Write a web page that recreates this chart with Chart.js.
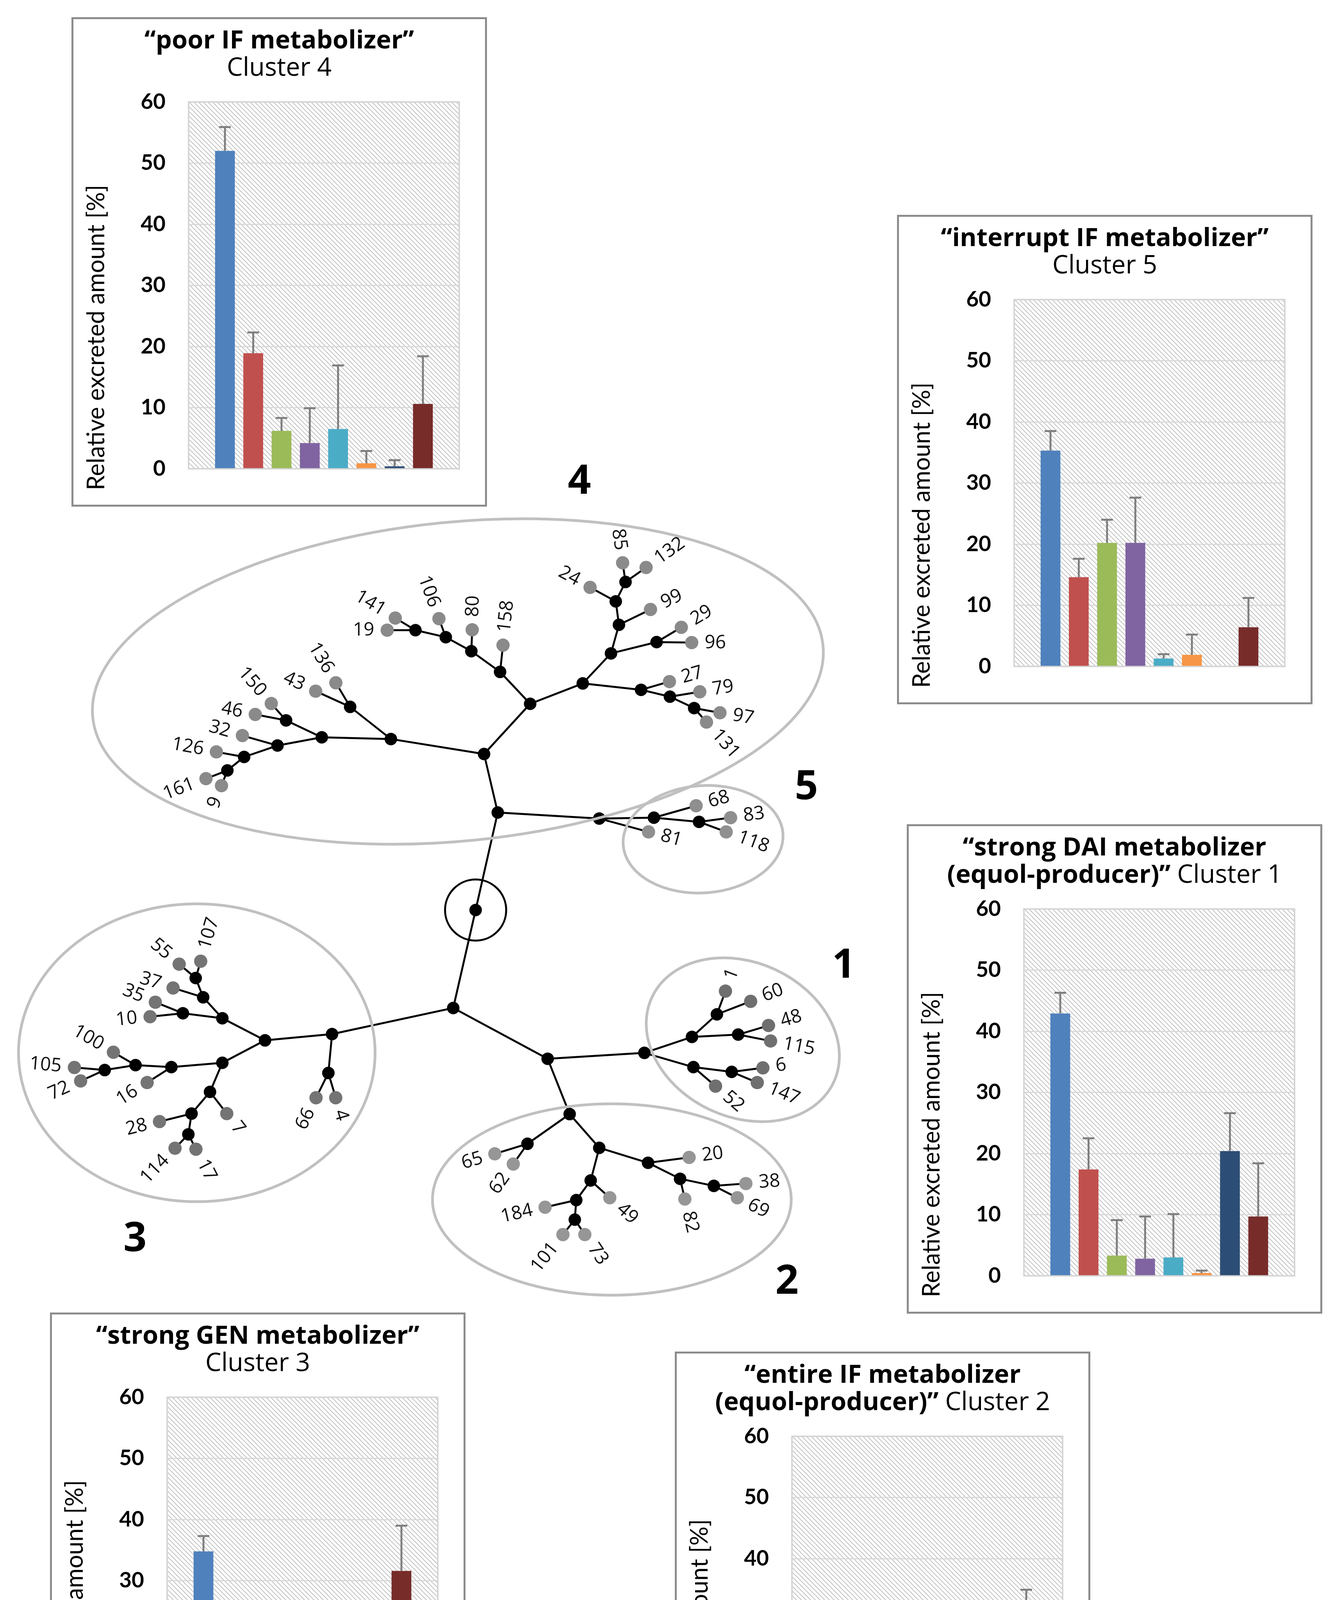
<!DOCTYPE html>
<html>
<head>
<meta charset="utf-8">
<script src="https://cdn.jsdelivr.net/npm/chart.js@4.4.0/dist/chart.umd.min.js"></script>
<style>
html, body { margin: 0; padding: 0; background: #fff; }
#page { position: relative; width: 3416px; height: 4956px; overflow: hidden; background: #fff; }
#tree { position: absolute; left: 0; top: 0; }
.panel { position: absolute; width: 1064px; height: 1253px; box-sizing: border-box; border: 5px solid #8c8c8c; background: #fff; }
.panel canvas { position: absolute; left: 0; top: 0; }
.ptitle { position: absolute; left: 0; right: 0; top: 15px; text-align: center; font-family: 'Open Sans'; font-size: 65px; line-height: 70px; color: #000; white-space: nowrap; }
.ptitle b { font-weight: 700; }
#legend { position: absolute; left: 438px; top: 4767px; width: 2517px; height: 163px; box-sizing: border-box; border: 5px solid #000; background: #fff;
  display: flex; align-items: center; justify-content: center; padding-top: 36px; padding-left: 30px; font-family: Lato; font-weight: 700; font-size: 57px; color: #000; }
#legend .item { display: flex; align-items: center; margin: 0 26px; }
#legend .mark { width: 33px; height: 39px; margin-right: 18px; }
</style>
</head>
<body>
<div id="page">
  <canvas id="tree" width="3416" height="4956"></canvas>
  <div id="legend"></div>
</div>
<script>
// ---- bar chart data (relative excreted amount, %, mean and upper SD) ----
var metabolites = ['DAI', 'GEN', 'DH-DAI', 'DH-GEN', 'ODMA', "6'OH-ODMA", 'Equol', '4EP'];
var barColors = ['#4F81BD', '#C0504D', '#9BBB59', '#8064A2', '#4BACC6', '#F79646', '#2C4D75', '#772C2A'];
var yTickMax = 60, yTickStep = 10;
var yAxisTitle = 'Relative excreted amount [%]';

var cluster4Mean = [52.0, 18.9, 6.2, 4.2, 6.5, 0.9, 0.4, 10.6];
var cluster4Sd   = [3.9, 3.4, 2.1, 5.7, 10.4, 2.0, 1.0, 7.8];
var cluster5Mean = [35.3, 14.6, 20.2, 20.2, 1.3, 1.9, 0.0, 6.4];
var cluster5Sd   = [3.2, 3.0, 3.8, 7.4, 0.7, 3.3, 0.0, 4.8];
var cluster1Mean = [42.9, 17.4, 3.3, 2.8, 3.0, 0.45, 20.4, 9.7];
var cluster1Sd   = [3.4, 5.1, 5.8, 6.9, 7.1, 0.4, 6.2, 8.7];
var cluster3Mean = [34.8, 8.7, 11.2, 1.4, 11.0, 0.6, 0.25, 31.6];
var cluster3Sd   = [2.5, 4.3, 8.2, 5.3, 6.8, 0.7, 1.05, 7.4];
var cluster2Mean = [29.8, 9.9, 5.1, 2.9, 4.1, 0.7, 19.1, 28.5];
var cluster2Sd   = [3.0, 1.6, 3.0, 7.4, 2.2, 1.1, 9.25, 6.4];

// ---- tree data: [id, x, y, parent] in figure units (1080 x 1567) ----
var innerNodes = [
  ['R0', 383.5, 736.3, null], ['N', 401.6, 656.8, 'R0'], ['AA', 365.2, 816.1, 'R0'],
  ['M', 390.4, 609.1, 'N'], ['X', 484.6, 661.7, 'N'], ['A', 314.2, 596.9, 'M'], ['L', 428.1, 568.2, 'M'],
  ['B', 257.7, 595.5, 'A'], ['C', 280.9, 570.7, 'A'], ['D', 228.5, 581.7, 'B'], ['E', 221.5, 602.2, 'B'],
  ['F', 194.2, 611.5, 'E'], ['G', 180.5, 622.5, 'F'], ['K', 403.5, 542.2, 'L'], ['J', 380.0, 525.3, 'K'],
  ['I', 359.1, 513.9, 'J'], ['H', 334.3, 508.2, 'I'], ['O', 471.1, 551.6, 'L'], ['P', 494.2, 527.1, 'O'],
  ['Q', 500.7, 503.8, 'P'], ['R', 498.1, 484.7, 'Q'], ['S', 506.1, 468.9, 'R'], ['T', 531.5, 517.9, 'P'],
  ['U', 518.8, 556.8, 'O'], ['V', 542.4, 562.4, 'U'], ['W', 562.2, 571.7, 'V'],
  ['Y', 529.3, 661.0, 'X'], ['Z', 566.2, 664.4, 'Y'],
  ['BA', 266.1, 837.4, 'AA'], ['BB', 263.1, 869.1, 'BA'], ['BC', 211.3, 842.5, 'BA'], ['BD', 176.4, 824.5, 'BC'],
  ['BE', 160.7, 807.4, 'BD'], ['BF', 154.6, 791.7, 'BE'], ['BG', 144.1, 820.4, 'BD'], ['BH', 176.4, 860.8, 'BC'],
  ['BI', 134.7, 864.3, 'BH'], ['BJ', 105.4, 862.7, 'BI'], ['BK', 80.2, 866.7, 'BJ'], ['BL', 166.3, 884.5, 'BH'],
  ['BM', 151.2, 902.2, 'BL'], ['BN', 148.6, 919.1, 'BM'],
  ['AB', 442.4, 857.5, 'AA'], ['CA', 521.5, 852.7, 'AB'], ['CB', 560.4, 839.7, 'CA'], ['CC', 580.8, 821.3, 'CB'],
  ['CD', 598.2, 837.8, 'CB'], ['CE', 561.6, 864.3, 'CA'], ['CF', 592.9, 868.2, 'CE'],
  ['AC', 460.4, 902.6, 'AB'], ['CG', 425.9, 926.8, 'AC'], ['CH', 484.6, 930.1, 'AC'], ['CI', 524.5, 942.3, 'CH'],
  ['CJ', 550.7, 955.3, 'CI'], ['CK', 578.3, 961.1, 'CJ'], ['CL', 477.6, 956.7, 'CH'], ['CM', 465.8, 972.7, 'CL'],
  ['CN', 464.6, 988.6, 'CM']
];
var leaves4 = [
  ['136', 269.2, 551.1, 'C'], ['43', 252.7, 557.9, 'C'], ['150', 216.4, 568.0, 'D'], ['46', 203.3, 576.9, 'D'],
  ['32', 192.8, 594.1, 'E'], ['126', 171.5, 607.4, 'F'], ['161', 163.0, 629.2, 'G'], ['9', 175.7, 634.9, 'G'],
  ['141', 317.8, 498.3, 'H'], ['19', 311.2, 508.2, 'H'], ['106', 353.5, 498.8, 'I'], ['80', 380.7, 507.9, 'J'],
  ['158', 405.9, 520.4, 'K'], ['99', 526.5, 491.3, 'Q'], ['24', 477.1, 473.3, 'R'], ['85', 503.7, 453.3, 'S'],
  ['132', 522.9, 457.1, 'S'], ['29', 551.7, 505.9, 'T'], ['96', 560.2, 518.3, 'T'], ['27', 542.0, 550.1, 'U'],
  ['79', 566.8, 558.4, 'V'], ['97', 583.3, 575.5, 'W'], ['131', 572.3, 583.1, 'W']
];
var leaves5 = [['68', 563.8, 651.3, 'Y'], ['83', 592.0, 661.0, 'Z'], ['118', 588.4, 672.6, 'Z'], ['81', 524.9, 672.6, 'X']];
var leaves3 = [
  ['55', 141.1, 780.4, 'BF'], ['107', 158.7, 778.0, 'BF'], ['37', 136.1, 799.8, 'BE'], ['35', 121.6, 811.4, 'BG'],
  ['10', 117.3, 823.2, 'BG'], ['100', 87.3, 852.2, 'BJ'], ['105', 55.4, 864.6, 'BK'], ['72', 60.5, 875.6, 'BK'],
  ['16', 114.9, 876.9, 'BI'], ['28', 125.0, 908.7, 'BM'], ['114', 137.7, 930.4, 'BN'], ['17', 154.8, 931.2, 'BN'],
  ['7', 180.0, 902.2, 'BL'], ['66', 253.0, 889.3, 'BB'], ['4', 269.1, 889.3, 'BB']
];
var leaves1 = [
  ['1', 587.8, 802.4, 'CC'], ['60', 608.4, 810.7, 'CC'], ['48', 623.0, 830.4, 'CD'], ['115', 624.7, 843.0, 'CD'],
  ['52', 579.7, 879.8, 'CE'], ['6', 618.4, 864.9, 'CF'], ['147', 613.8, 876.9, 'CF']
];
var leaves2 = [
  ['65', 399.2, 935.0, 'CG'], ['62', 414.3, 943.3, 'CG'], ['20', 558.1, 937.9, 'CI'], ['82', 554.6, 971.8, 'CJ'],
  ['38', 604.5, 959.2, 'CK'], ['69', 597.5, 970.8, 'CK'], ['49', 493.2, 970.8, 'CL'], ['184', 440.3, 978.5, 'CM'],
  ['101', 454.9, 1000.8, 'CN'], ['73', 472.8, 1000.8, 'CN']
];
// cluster outlines: [label, cx, cy, rx, ry, rotation deg], and cluster number positions
var clusterRings = [['4', 369, 550, 300, 130, -5.6], ['5', 569.5, 678.6, 65.5, 43.7, -4], ['1', 602, 842, 82, 63, 25],
  ['2', 494.9, 972.2, 146.7, 78, 0], ['3', 155.5, 852.6, 145.8, 121.4, 0]];
var clusterNumbers = [['4', 468.4, 387.5], ['5', 654.0, 636.6], ['1', 684.5, 782.0], ['2', 638.1, 1039.5], ['3', 105.0, 1005.0]];
var rootRingRadius = 25;

Chart.defaults.font.family = 'Lato';

// ---- tree ----
var nodeById = {};
innerNodes.forEach(function (n) { nodeById[n[0]] = n; });
var allLeaves = [].concat(leaves4, leaves5, leaves3, leaves1, leaves2);

var edgePoints = [];
innerNodes.concat(allLeaves).forEach(function (n) {
    if (!n[3]) return;
    var p = nodeById[n[3]];
    edgePoints.push({ x: p[1], y: p[2] }, { x: n[1], y: n[2] }, { x: null, y: null });
});
function pts(list) { return list.map(function (n) { return { x: n[1], y: n[2] }; }); }
function leafSet(list, color) {
    return { data: pts(list), pointRadius: 17, pointBackgroundColor: color, pointBorderWidth: 0, order: 1 };
}

var treeDecor = {
    id: 'treeDecor',
    afterDatasetsDraw: function (chart) {
        var ctx = chart.ctx, xs = chart.scales.x, ys = chart.scales.y;
        var px = function (v) { return xs.getPixelForValue(v); };
        var py = function (v) { return ys.getPixelForValue(v); };
        ctx.save();
        // cluster outlines
        ctx.strokeStyle = '#c0c0c0';
        ctx.lineWidth = 7;
        clusterRings.forEach(function (r) {
            ctx.beginPath();
            ctx.ellipse(px(r[1]), py(r[2]), px(r[1] + r[3]) - px(r[1]), py(r[2] + r[4]) - py(r[2]), r[5] * Math.PI / 180, 0, Math.PI * 2);
            ctx.stroke();
        });
        // root marker
        var root = nodeById['R0'];
        ctx.strokeStyle = '#000';
        ctx.lineWidth = 5;
        ctx.beginPath();
        ctx.arc(px(root[1]), py(root[2]), px(root[1] + rootRingRadius) - px(root[1]), 0, Math.PI * 2);
        ctx.stroke();
        // leaf labels, along the branch direction
        ctx.fillStyle = '#111';
        ctx.font = '48px "Open Sans"';
        ctx.textBaseline = 'middle';
        allLeaves.forEach(function (n) {
            var p = nodeById[n[3]];
            var lx = px(n[1]), ly = py(n[2]);
            var a = Math.atan2(ly - py(p[2]), lx - px(p[1]));
            ctx.save();
            ctx.translate(lx + Math.cos(a) * 33, ly + Math.sin(a) * 33);
            if (Math.cos(a) >= -0.02) {
                ctx.rotate(a);
                ctx.textAlign = 'left';
            } else {
                ctx.rotate(a + Math.PI);
                ctx.textAlign = 'right';
            }
            ctx.fillText(n[0], 0, 0);
            ctx.restore();
        });
        // cluster numbers
        ctx.fillStyle = '#000';
        ctx.font = 'bold 104px "Open Sans"';
        ctx.textAlign = 'center';
        clusterNumbers.forEach(function (c) { ctx.fillText(c[0], px(c[1]), py(c[2])); });
        ctx.restore();
    }
};

new Chart(document.getElementById('tree'), {
    type: 'scatter',
    data: {
        datasets: [
            { data: pts(innerNodes), pointRadius: 16, pointBackgroundColor: '#000', pointBorderWidth: 0, order: 1 },
            leafSet(leaves4, '#8a8a8a'),
            leafSet(leaves5, '#8f8f8f'),
            leafSet(leaves3, '#747474'),
            leafSet(leaves1, '#6f6f6f'),
            leafSet(leaves2, '#969696'),
            { data: edgePoints, showLine: true, spanGaps: false, borderColor: '#000', borderWidth: 5, pointRadius: 0, order: 5 }
        ]
    },
    options: {
        responsive: false, animation: false, devicePixelRatio: 1, events: [],
        layout: { padding: 0 },
        plugins: { legend: { display: false }, tooltip: { enabled: false } },
        scales: {
            x: { type: 'linear', min: 0, max: 1080, display: false },
            y: { type: 'linear', min: 0, max: 1567, reverse: true, display: false }
        }
    },
    plugins: [treeDecor]
});

// ---- bar panels ----
var hatchTile = (function () {
    var c = document.createElement('canvas');
    c.width = c.height = 12;
    var g = c.getContext('2d');
    g.strokeStyle = '#c2c2c2';
    g.lineWidth = 2;
    g.beginPath();
    g.moveTo(-3, -3); g.lineTo(15, 15);
    g.moveTo(-3, 9); g.lineTo(3, 15);
    g.moveTo(9, -3); g.lineTo(15, 3);
    g.stroke();
    return c;
})();

var plotBackdrop = {
    id: 'plotBackdrop',
    beforeDraw: function (chart) {
        var a = chart.chartArea, ctx = chart.ctx;
        ctx.save();
        ctx.fillStyle = ctx.createPattern(hatchTile, 'repeat');
        ctx.fillRect(a.left, a.top, a.right - a.left, a.bottom - a.top);
        ctx.restore();
    },
    beforeDatasetsDraw: function (chart) {
        var a = chart.chartArea, ctx = chart.ctx;
        ctx.save();
        ctx.strokeStyle = '#d6d6d6';
        ctx.lineWidth = 4;
        ctx.strokeRect(a.left, a.top, a.right - a.left, a.bottom - a.top);
        ctx.restore();
    }
};

var errorBars = {
    id: 'errorBars',
    afterDatasetsDraw: function (chart) {
        var ctx = chart.ctx, ys = chart.scales.y;
        ctx.save();
        ctx.strokeStyle = '#7f7f7f';
        ctx.lineWidth = 5;
        chart.data.datasets.forEach(function (ds, i) {
            if (!ds.errorPlus) return;
            var bar = chart.getDatasetMeta(i).data[0];
            var y0 = ys.getPixelForValue(ds.data[0]);
            var y1 = ys.getPixelForValue(ds.data[0] + ds.errorPlus);
            ctx.beginPath();
            ctx.moveTo(bar.x, y0); ctx.lineTo(bar.x, y1);
            ctx.moveTo(bar.x - 15, y1); ctx.lineTo(bar.x + 15, y1);
            ctx.stroke();
        });
        ctx.restore();
    }
};

var yTitle = {
    id: 'yTitle',
    afterDraw: function (chart) {
        var ctx = chart.ctx;
        ctx.save();
        ctx.translate(79, 815);
        ctx.rotate(-Math.PI / 2);
        ctx.font = '61px Lato';
        ctx.fillStyle = '#000';
        ctx.textAlign = 'center';
        ctx.textBaseline = 'alphabetic';
        ctx.fillText(yAxisTitle, 0, 0);
        ctx.restore();
    }
};

var panels = [
    { left: 183, top: 44, title: '<b>“poor IF metabolizer”</b><br>Cluster 4', mean: cluster4Mean, sd: cluster4Sd },
    { left: 2297, top: 550, title: '<b>“interrupt IF metabolizer”</b><br>Cluster 5', mean: cluster5Mean, sd: cluster5Sd },
    { left: 2322, top: 2110, title: '<b>“strong DAI metabolizer<br>(equol-producer)”</b> Cluster 1', mean: cluster1Mean, sd: cluster1Sd },
    { left: 128, top: 3360, title: '<b>“strong GEN metabolizer”</b><br>Cluster 3', mean: cluster3Mean, sd: cluster3Sd },
    { left: 1728, top: 3460, title: '<b>“entire IF metabolizer<br>(equol-producer)”</b> Cluster 2', mean: cluster2Mean, sd: cluster2Sd }
];

var page = document.getElementById('page');
panels.forEach(function (p) {
    var box = document.createElement('div');
    box.className = 'panel';
    box.style.left = p.left + 'px';
    box.style.top = p.top + 'px';
    var cv = document.createElement('canvas');
    cv.width = 1054;
    cv.height = 1243;
    box.appendChild(cv);
    var t = document.createElement('div');
    t.className = 'ptitle';
    t.innerHTML = p.title;
    box.appendChild(t);
    page.appendChild(box);
    new Chart(cv, {
        type: 'bar',
        data: {
            labels: [''],
            datasets: metabolites.map(function (m, i) {
                return { label: m, data: [p.mean[i]], errorPlus: p.sd[i], backgroundColor: barColors[i], borderWidth: 0,
                    categoryPercentage: 0.836, barPercentage: 0.70 };
            })
        },
        options: {
            responsive: false, animation: false, devicePixelRatio: 1, events: [],
            layout: { padding: { left: 0, right: 66, top: 212, bottom: 67 } },
            plugins: { legend: { display: false }, tooltip: { enabled: false } },
            scales: {
                x: { display: false },
                y: {
                    min: 0, max: yTickMax,
                    afterFit: function (s) { s.width = 295; },
                    ticks: { stepSize: yTickStep, padding: 59, color: '#000', font: { size: 55, weight: 'bold', family: 'Lato' } },
                    grid: { color: '#d9d9d9', lineWidth: 3, drawTicks: false },
                    border: { display: false }
                }
            }
        },
        plugins: [plotBackdrop, errorBars, yTitle]
    });
});

// ---- legend ----
var legend = document.getElementById('legend');
metabolites.forEach(function (m, i) {
    var item = document.createElement('div');
    item.className = 'item';
    var mk = document.createElement('span');
    mk.className = 'mark';
    mk.style.background = barColors[i];
    var tx = document.createElement('span');
    tx.textContent = m;
    item.appendChild(mk);
    item.appendChild(tx);
    legend.appendChild(item);
});
</script>
</body>
</html>
